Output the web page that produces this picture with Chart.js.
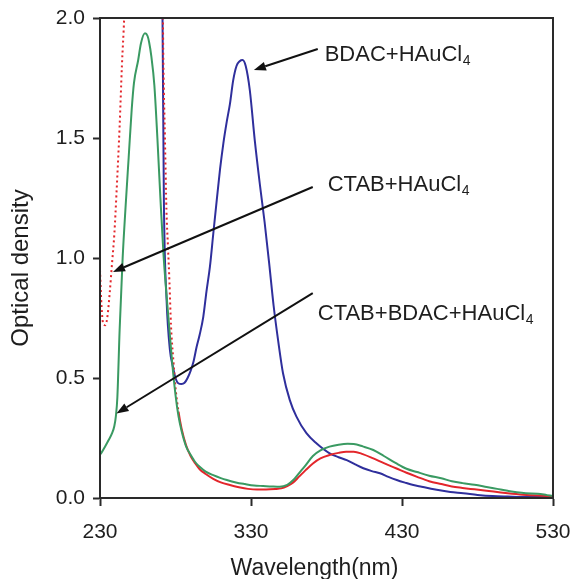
<!DOCTYPE html>
<html>
<head>
<meta charset="utf-8">
<script src="https://cdn.jsdelivr.net/npm/chart.js@4.4.1/dist/chart.umd.min.js"></script>
<style>
  html, body { margin: 0; padding: 0; background: #fff; }
  #wrap { width: 572px; height: 579px; position: relative; }
</style>
</head>
<body>
<div id="wrap"><canvas id="c" width="572" height="579"></canvas></div>
<script>
// ---- Data (wavelength in nm, optical density) ----
const greenWl = [230,231.1,233.3,236,238,239.5,240.5,241.5,243,245,247,249,251,252.5,255.3,257.1,259.8,261.5,262.5,264,266,268,270,272,274,276,278,280,282,284,287,290,293,296,300,305,310,314,320,326,332,338,344,349,354,358,362,366,371,376,382,388,394,398,404,411,418,426,433,440,448,456,463,470,478,486,493,500,506,512,520,526,530];
const greenOd = [0.18,0.19,0.214,0.245,0.27,0.30,0.34,0.42,0.70,1.00,1.22,1.42,1.62,1.73,1.825,1.894,1.936,1.925,1.90,1.84,1.72,1.50,1.25,1.02,0.85,0.70,0.55,0.43,0.34,0.28,0.215,0.18,0.15,0.13,0.11,0.095,0.083,0.075,0.065,0.058,0.052,0.05,0.048,0.047,0.055,0.075,0.105,0.135,0.175,0.198,0.214,0.222,0.226,0.225,0.215,0.20,0.175,0.145,0.122,0.108,0.093,0.082,0.07,0.062,0.055,0.046,0.038,0.03,0.024,0.02,0.018,0.012,0.008];

const redWl = [230,231,232,233.5,235,236.5,238,239.5,241,243,244.5,246,247,260,271.5,272,273,274,275,276,277,278.5,280,282,284,287,290,293,296,300,305,310,316,322,328,334,340,346,350,354,358,362,366,371,376,382,388,393,398,404,411,418,426,433,440,448,456,463,470,478,486,493,500,510,520,530];
const redOd = [0.95,0.80,0.73,0.72,0.76,0.86,0.98,1.10,1.28,1.55,1.80,2.0,2.2,2.5,2.05,1.80,1.50,1.20,1.05,0.90,0.72,0.58,0.46,0.36,0.29,0.22,0.175,0.145,0.12,0.10,0.08,0.065,0.054,0.045,0.038,0.035,0.035,0.037,0.04,0.05,0.065,0.09,0.115,0.144,0.165,0.179,0.188,0.193,0.193,0.183,0.165,0.145,0.124,0.105,0.088,0.07,0.058,0.048,0.042,0.036,0.03,0.025,0.02,0.014,0.01,0.008];

const blueWl = [265,270,271.4,272.3,274.1,276.3,278.3,280,281.8,284,286,288,290,292,294,296,298.4,300.5,302.8,305,307.3,309.5,311.7,314,316,318.2,320.4,322.5,324.4,326.5,329.2,332.5,336,339,342,345,348,351.2,355.7,360.1,366.7,373.3,382.1,388,393.4,399,404.4,410,415.4,421,426.5,432,437.5,443,448.5,455,462,470.6,480,490,500,515,530];
const blueOd = [2.6,2.3,2.0,1.24,0.825,0.617,0.547,0.50,0.478,0.475,0.48,0.50,0.53,0.57,0.63,0.68,0.755,0.86,0.964,1.10,1.24,1.37,1.478,1.57,1.64,1.74,1.80,1.82,1.825,1.80,1.70,1.49,1.30,1.15,0.98,0.80,0.655,0.52,0.408,0.339,0.27,0.228,0.186,0.17,0.158,0.14,0.124,0.112,0.103,0.088,0.075,0.064,0.054,0.047,0.04,0.032,0.025,0.02,0.013,0.008,0.006,0.004,0.004];

const xTicks = [230, 330, 430, 530];
const yTicks = [0.0, 0.5, 1.0, 1.5, 2.0];

const xTitle = 'Wavelength(nm)';
const yTitle = 'Optical density';
const seriesNames = ['CTAB+BDAC+HAuCl4', 'CTAB+HAuCl4', 'BDAC+HAuCl4'];

// annotation labels (text, subscript) anchored in data units
const annText = ['BDAC+HAuCl', 'CTAB+HAuCl', 'CTAB+BDAC+HAuCl'];
const annSub = ['4', '4', '4'];
const annAt = [[378.8, 1.854], [380.8, 1.3125], [374.2, 0.775]];
const arrowFrom = [[374.2, 1.871], [370.9, 1.296], [370.9, 0.854]];
const arrowTo = [[331.9, 1.783], [238.6, 0.942], [240.9, 0.352]];

function pts(xs, ys) { return xs.map((x, i) => ({ x: x, y: ys[i] })); }

const FONT = '"Liberation Sans", Arial, Helvetica, sans-serif';
const INK = '#1e1e1e';

const frame = {
  id: 'frame',
  afterDatasetsDraw(chart) {
    const ctx = chart.ctx, a = chart.chartArea;
    const xs = chart.scales.x, ys = chart.scales.y;
    ctx.save();
    // box
    ctx.strokeStyle = '#2a2a2a';
    ctx.lineWidth = 2;
    ctx.strokeRect(a.left, a.top, a.right - a.left, a.bottom - a.top);
    // arrows
    ctx.strokeStyle = '#111';
    ctx.fillStyle = '#111';
    ctx.lineWidth = 2;
    for (let i = 0; i < arrowFrom.length; i++) {
      const x0 = xs.getPixelForValue(arrowFrom[i][0]), y0 = ys.getPixelForValue(arrowFrom[i][1]);
      const x1 = xs.getPixelForValue(arrowTo[i][0]), y1 = ys.getPixelForValue(arrowTo[i][1]);
      const ang = Math.atan2(y1 - y0, x1 - x0);
      const L = 12, W = 4.5;
      const bx = x1 - L * Math.cos(ang), by = y1 - L * Math.sin(ang);
      ctx.beginPath();
      ctx.moveTo(x0, y0);
      ctx.lineTo(bx, by);
      ctx.stroke();
      ctx.beginPath();
      ctx.moveTo(x1, y1);
      ctx.lineTo(bx + W * Math.sin(ang), by - W * Math.cos(ang));
      ctx.lineTo(bx - W * Math.sin(ang), by + W * Math.cos(ang));
      ctx.closePath();
      ctx.fill();
    }
    // labels
    ctx.fillStyle = INK;
    ctx.textBaseline = 'alphabetic';
    ctx.textAlign = 'left';
    for (let i = 0; i < annText.length; i++) {
      const x = xs.getPixelForValue(annAt[i][0]);
      const y = ys.getPixelForValue(annAt[i][1]);
      ctx.font = '22px ' + FONT;
      const base = y + 8;
      ctx.fillText(annText[i], x, base);
      const w = ctx.measureText(annText[i]).width;
      ctx.font = '14px ' + FONT;
      ctx.fillText(annSub[i], x + w + 0.5, base + 4);
    }
    // axis titles
    ctx.font = '23px ' + FONT;
    ctx.textAlign = 'center';
    ctx.textBaseline = 'alphabetic';
    ctx.fillText(xTitle, (a.left + a.right) / 2 - 12, chart.height - 4);
    ctx.save();
    ctx.translate(28, (a.top + a.bottom) / 2 + 10);
    ctx.rotate(-Math.PI / 2);
    ctx.font = '24px ' + FONT;
    ctx.fillText(yTitle, 0, 0);
    ctx.restore();
    ctx.restore();
  }
};

new Chart(document.getElementById('c'), {
  type: 'line',
  data: {
    datasets: [
      {
        label: seriesNames[0],
        data: pts(greenWl, greenOd),
        borderColor: '#3a9a62',
        borderWidth: 2,
        pointRadius: 0,
        cubicInterpolationMode: 'monotone',
        fill: false
      },
      {
        label: seriesNames[1],
        data: pts(redWl, redOd),
        borderColor: '#e3262b',
        borderWidth: 2,
        pointRadius: 0,
        cubicInterpolationMode: 'monotone',
        fill: false,
        segment: {
          borderDash: c => (c.p0.parsed.x < 282 ? [2, 3] : undefined)
        }
      },
      {
        label: seriesNames[2],
        data: pts(blueWl, blueOd),
        borderColor: '#2f2f9c',
        borderWidth: 2,
        pointRadius: 0,
        cubicInterpolationMode: 'monotone',
        fill: false
      }
    ]
  },
  options: {
    responsive: false,
    animation: false,
    events: [],
    layout: { padding: { top: 18, right: 19, left: 0, bottom: 0 } },
    plugins: {
      legend: { display: false },
      tooltip: { enabled: false }
    },
    scales: {
      x: {
        type: 'linear',
        min: 230,
        max: 530,
        afterBuildTicks: s => { s.ticks = xTicks.map(v => ({ value: v })); },
        afterFit: s => { s.height = 81; s.paddingLeft = 0; s.paddingRight = 0; },
        ticks: {
          color: INK,
          font: { family: FONT, size: 21 },
          padding: 14,
          maxRotation: 0,
          callback: v => String(v)
        },
        grid: { drawOnChartArea: false, drawTicks: true, tickLength: 8, tickColor: '#2a2a2a', tickWidth: 2 },
        border: { display: true, color: '#2a2a2a', width: 2 },
        title: { display: false }
      },
      y: {
        type: 'linear',
        min: 0,
        max: 2,
        afterBuildTicks: s => { s.ticks = yTicks.map(v => ({ value: v })); },
        afterFit: s => { s.width = 100; s.paddingTop = 0; s.paddingBottom = 0; },
        ticks: {
          color: INK,
          font: { family: FONT, size: 21 },
          padding: 8,
          callback: v => Number(v).toFixed(1)
        },
        grid: { drawOnChartArea: false, drawTicks: true, tickLength: 7, tickColor: '#2a2a2a', tickWidth: 2 },
        border: { display: true, color: '#2a2a2a', width: 2 },
        title: { display: false }
      }
    }
  },
  plugins: [frame]
});
</script>
</body>
</html>
